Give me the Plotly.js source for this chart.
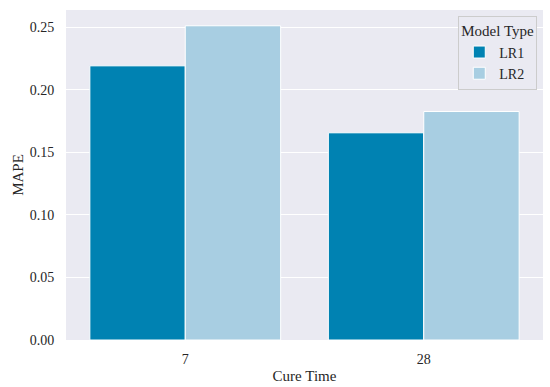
<!DOCTYPE html>
<html><head><meta charset="utf-8">
<script src="https://cdn.plot.ly/plotly-3.0.1.min.js"></script>
<style>body{margin:0;padding:0;}#chart{width:550px;height:387px;}</style>
</head><body><div id="chart"></div>
<script>
const categories = ["7", "28"];
const seriesNames = ["LR1", "LR2"];
const lr1 = [0.219, 0.1655];
const lr2 = [0.251, 0.1825];
const tickVals = [0, 0.05, 0.10, 0.15, 0.20, 0.25];
const tickText = ["0.00", "0.05", "0.10", "0.15", "0.20", "0.25"];
const colors = ["#0082B2", "#A8CEE2"];

const font = "Liberation Serif";
const traces = [lr1, lr2].map((v, i) => ({
  type: "bar", x: categories, y: v, name: seriesNames[i],
  marker: {color: colors[i], line: {color: "#ffffff", width: 1}}
}));
Plotly.newPlot("chart", traces, {
  width: 550, height: 387,
  margin: {l: 66, r: 7, t: 10, b: 47},
  paper_bgcolor: "#ffffff", plot_bgcolor: "#EAEAF2",
  font: {family: font, size: 13, color: "#262626"},
  barmode: "group", bargap: 0.2, bargroupgap: 0,
  xaxis: {type: "category", showgrid: false, zeroline: false,
    ticks: "outside", ticklen: 6, tickcolor: "rgba(0,0,0,0)",
    title: {text: "Cure Time", font: {family: font, size: 15}, standoff: 4},
    tickfont: {family: font, size: 14}},
  yaxis: {range: [0, 0.2636], tickvals: tickVals, ticktext: tickText,
    gridcolor: "#ffffff", gridwidth: 1, zeroline: false,
    ticks: "outside", ticklen: 8, tickcolor: "rgba(0,0,0,0)",
    title: {text: "MAPE", font: {family: font, size: 15}, standoff: 2},
    tickfont: {family: font, size: 14}},
  legend: {x: 0.988, y: 0.982, xanchor: "right", yanchor: "top",
    bgcolor: "#EAEAF2", bordercolor: "#cccccc", borderwidth: 1,
    title: {text: "Model Type", font: {family: font, size: 15}, side: "top"},
    font: {family: font, size: 14}}
}, {displayModeBar: false});
</script></body></html>
